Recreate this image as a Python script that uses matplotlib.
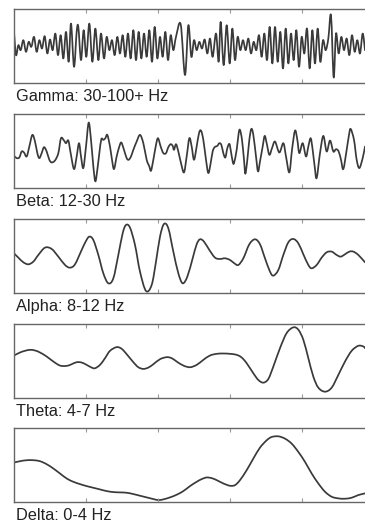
import numpy as np
import matplotlib
matplotlib.use("Agg")
import matplotlib.pyplot as plt
from matplotlib.path import Path
from matplotlib.patches import PathPatch

plt.rcParams['font.family'] = ['Liberation Sans', 'DejaVu Sans']

# ---- data (time in ms, amplitude in arbitrary units) ----
labels = ["Gamma: 30-100+ Hz", "Beta: 12-30 Hz", "Alpha: 8-12 Hz",
          "Theta: 4-7 Hz", "Delta: 0-4 Hz"]

gamma_t = [0, 6, 13, 20, 28, 36, 44, 52, 60, 68, 76, 84, 92, 100, 108, 116, 124, 132, 140, 148, 156,
           164, 171, 180, 188, 193, 201, 209, 217, 226, 235, 244, 253, 261, 270, 278,
           286, 294, 302, 310, 318, 326, 334, 342, 350, 358, 366, 374, 382, 390, 398, 406, 414,
           422, 430, 438, 446, 454, 462, 470, 478, 486,
           500, 513, 523,
           532, 540, 548, 556, 564, 572, 580, 588, 596,
           606, 614, 620, 629, 638, 647, 655, 663, 671,
           679, 687, 695, 703, 711, 719, 727, 735, 743, 751,
           759, 767, 775, 783, 791, 799, 807, 815, 823, 831, 839, 847, 855, 863, 871, 879,
           887, 895, 903, 911, 919, 927, 935, 943,
           951, 959, 966,
           974, 982, 990, 998, 1006, 1014, 1022, 1030, 1038, 1046, 1053]
gamma_v = [43, -27, 3, -12, 18, -17, 13, -2, 28, -17, 18, -7, 30, -22, 20, -12, 38, -27, 33, -37, 43,
           -47, 68, -62, 43, 58, -42, 48, -32, 68, -47, 53, -42, 38, -37, 28,
           -12, 18, -27, 28, -22, 33, -32, 38, -37, 48, -42, 43, -37, 38, -32, 48, -47,
           58, -37, 28, -32, 43, -42, 33, -12, 28,
           66, -87, 63,
           -32, 18, -12, 13, -7, 20, -22, 23, -32,
           38, -47, 73, -57, 63, -52, 53, -42, 28,
           -12, 18, -12, 23, -22, 13, -12, 33, -32, 38,
           -42, 58, -52, 58, -47, 43, -67, 53, -52, 38, -42, 48, -62, 28, -22, 53,
           -67, 48, -52, 53, -47, 18, -12, 23,
           93, -94, 38,
           -22, 28, -12, 23, -27, 33, -17, 18, -22, 38, -12]

beta_t = [0, 8, 16, 23, 30, 38, 46, 55, 63, 70, 76, 83, 90, 98, 106, 113, 123, 133, 141, 150,
          156, 163, 170, 180, 188, 195, 201, 208, 216, 224, 231, 238, 244, 250, 256, 262,
          268, 274, 280, 288, 294, 300, 308, 316, 322, 330, 338, 344, 351, 358, 368, 378,
          388, 398, 406, 411, 418, 426, 432, 440, 448, 456, 463, 470, 476, 480, 486, 493,
          501, 510, 518, 526, 533, 540, 548, 555, 561, 568, 576, 583, 590, 596, 602, 610,
          616, 622, 628, 634, 640, 646, 650, 656, 660, 668, 674, 678, 684, 690, 694, 700,
          706, 712, 718, 726, 732, 738, 746, 752, 758, 766, 774, 783, 796, 808, 816, 826,
          834, 843, 850, 856, 866, 876, 883, 890, 896, 902, 908, 918, 928, 938, 948, 958,
          966, 974, 981, 988, 998, 1005, 1010, 1020, 1028, 1036, 1046, 1053]
beta_v = [-15, -22, -20, -2, -5, -17, 13, 48, 28, -7, -22, -7, 11, -2, -27, -35, -29, -7, 38, 31,
          23, 31, -7, -55, -17, 23, -17, -52, 13, 85, 33, -47, -92, -57, -7, 35,
          33, 38, 48, 13, -27, -55, -17, 13, 25, 3, -22, -27, -17, 3, 28, 48,
          23, -27, -47, -60, -27, 18, 38, 13, -7, -7, 11, 20, 15, 3, 20, -2,
          -37, -65, -17, 38, 13, -27, 13, 53, 61, 33, -27, -67, -37, -2, 11, 15,
          23, 18, -7, -20, 8, 21, 3, -32, -37, 3, 53, 63, 33, -27, -69, -27,
          33, 66, 48, -17, -62, -32, 13, 45, 23, -12, 8, 28, -5, 23, -17, -65,
          3, 61, 33, -7, 23, -17, 13, 38, 3, -47, -82, -7, 45, -2, 31, -2,
          5, -2, -27, -55, 3, 48, 66, 33, -27, -52, -22, 13]

alpha_t = [0, 13, 28, 43, 58, 73, 93, 113, 133, 153, 168, 183, 203, 216, 226, 238, 253, 268,
           283, 298, 313, 326, 336, 348, 363, 378, 396, 413, 426, 438, 450, 463, 478, 493,
           506, 520, 536, 548, 558, 570, 586, 603, 618, 633, 648, 661, 673, 688, 706, 723,
           738, 753, 768, 778, 793, 808, 823, 838, 853, 868, 883, 893, 908, 923, 938, 953,
           968, 980, 993, 1006, 1018, 1033, 1053]
alpha_v = [9, -4, -18, -24, -16, 4, 26, 22, -1, -26, -34, -24, 19, 46, 59, 49, 4, -51,
           -81, -66, 4, 69, 94, 86, 34, -46, -104, -86, -16, 59, 97, 84, 14, -51,
           -81, -61, -6, 36, 51, 44, 19, -4, -8, -6, -11, -21, -26, -6, 36, 51,
           36, -6, -46, -58, -41, 4, 42, 52, 39, 6, -26, -36, -26, -4, 12, 14,
           4, -1, 6, 14, 14, 4, -18]

theta_t = [0, 18, 33, 48, 63, 78, 98, 118, 138, 158, 173, 188, 203, 218, 233, 243, 258, 273,
           288, 308, 323, 338, 358, 373, 388, 403, 418, 438, 458, 473, 488, 508, 528, 548,
           568, 588, 608, 628, 648, 668, 683, 698, 718, 733, 748, 763, 778, 798, 818, 838,
           853, 868, 883, 898, 913, 933, 953, 973, 993, 1013, 1033, 1048, 1053]
theta_v = [16, 25, 30, 33, 31, 25, 13, -2, -14, -15, -10, -4, -5, -12, -20, -22, -12, 8,
           30, 41, 36, 20, -4, -19, -24, -20, -10, 5, 11, 8, -2, -14, -19, -12,
           3, 16, 21, 22, 21, 18, 10, -7, -37, -57, -65, -54, -17, 38, 83, 100,
           93, 63, 8, -47, -80, -92, -80, -42, -2, 30, 45, 43, 38]

delta_t = [0, 18, 38, 58, 78, 98, 118, 138, 158, 178, 198, 218, 238, 258, 278, 298, 318, 338,
           358, 378, 398, 418, 433, 448, 468, 488, 508, 528, 548, 563, 578, 593, 608, 628,
           648, 663, 678, 698, 718, 738, 758, 773, 793, 813, 833, 853, 873, 893, 913, 933,
           953, 973, 993, 1013, 1033, 1053]
delta_v = [7, 11, 14, 14, 11, 2, -11, -26, -41, -51, -58, -64, -69, -74, -79, -82, -83, -84,
           -88, -93, -98, -103, -106, -104, -98, -90, -79, -64, -51, -43, -38, -40, -46, -56,
           -63, -61, -46, -16, 19, 52, 74, 84, 86, 79, 64, 39, 9, -26, -56, -81,
           -96, -101, -102, -99, -91, -86]

tick_t = [216, 432, 648, 864]
ylims = [(-111, 112), (-112, 111), (-111, 111), (-110, 111), (-111, 112)]
series = [(gamma_t, gamma_v), (beta_t, beta_v), (alpha_t, alpha_v),
          (theta_t, theta_v), (delta_t, delta_v)]


def smooth_path(t, v):
    """Smooth (Catmull-Rom style) Bezier path passing through every read point."""
    p = np.column_stack([t, v]).astype(float)
    n = len(p)
    verts = [p[0]]
    codes = [Path.MOVETO]
    for i in range(n - 1):
        p0 = p[i - 1] if i > 0 else p[i]
        p1 = p[i]
        p2 = p[i + 1]
        p3 = p[i + 2] if i + 2 < n else p[i + 1]
        c1 = p1 + (p2 - p0) / 6.0
        c2 = p2 - (p3 - p1) / 6.0
        verts += [c1, c2, p2]
        codes += [Path.CURVE4] * 3
    return Path(np.array(verts), codes)


# ---- layout ----
W, H = 365, 522
fig = plt.figure(figsize=(W / 100, H / 100), dpi=100)
fig.patch.set_facecolor('white')

box_bottoms_px = [83, 188, 293.3, 397.7, 501.7]
box_h_px = 74
left_px = 14
width_px = 360  # box extends past the right edge of the figure

for (t, v), lab, bot, yl in zip(series, labels, box_bottoms_px, ylims):
    ax = fig.add_axes([left_px / W, (H - bot) / H, width_px / W, box_h_px / H])
    patch = PathPatch(smooth_path(t, v), facecolor='none', edgecolor='#3a3a3a',
                      lw=1.25, joinstyle='round', capstyle='round',
                      transform=ax.transData, clip_on=True)
    ax.add_patch(patch)
    ax.set_xlim(0, 1080)
    ax.set_ylim(*yl)
    ax.set_xticks(tick_t)
    ax.set_yticks([])
    ax.tick_params(axis='x', direction='in', length=3, width=0.8, color='#999999',
                   top=True, bottom=True, labelbottom=False, labeltop=False)
    for s in ax.spines.values():
        s.set_color('#666666')
        s.set_linewidth(1.0)
    ax.text(2 / width_px, -18 / box_h_px, lab, transform=ax.transAxes,
            ha='left', va='baseline', fontsize=11.8, color='#222222')

fig.savefig('out.png', dpi=100, facecolor='white')
